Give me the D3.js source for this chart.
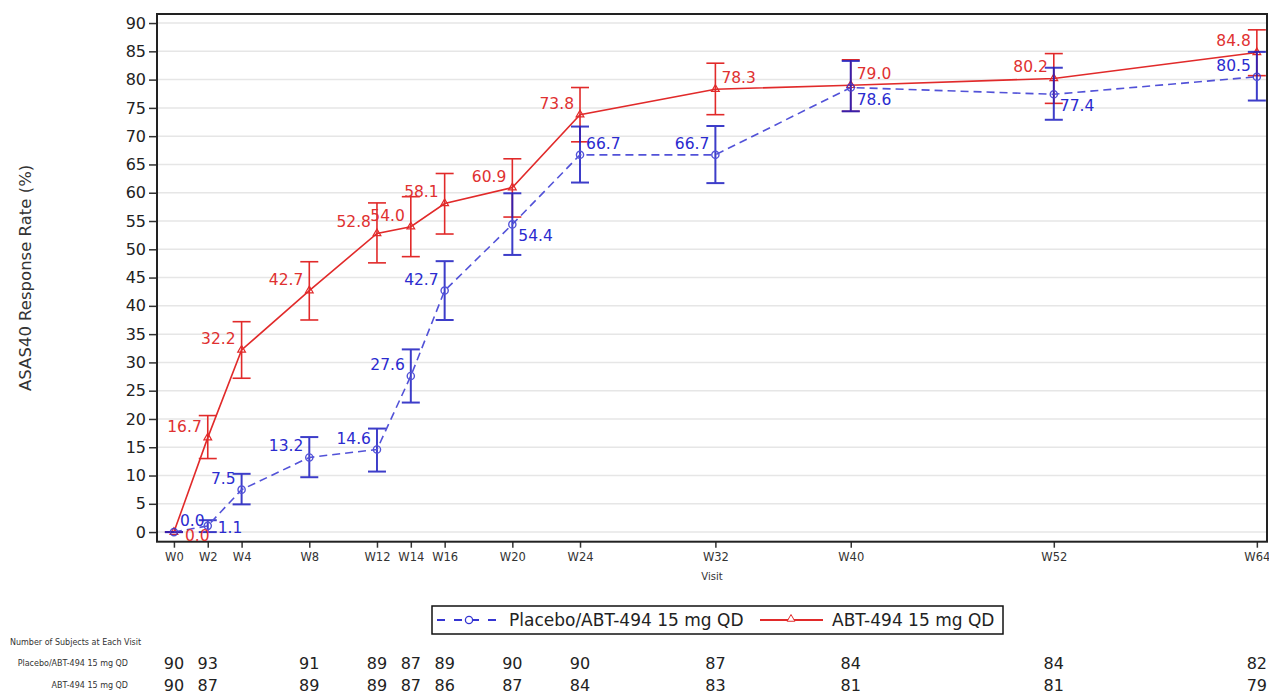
<!DOCTYPE html>
<html>
<head>
<meta charset="utf-8">
<script src="https://cdn.jsdelivr.net/npm/d3@7"></script>
<style>
  body { margin: 0; background: #fff; }
  text { font-family: "DejaVu Sans", Verdana, sans-serif; }
</style>
</head>
<body>
<div id="chart"></div>
<script>
// visit labels and study weeks
const visits = ["W0", "W2", "W4", "W8", "W12", "W14", "W16", "W20", "W24", "W32", "W40", "W52", "W64"];
const weeks = [0, 2, 4, 8, 12, 14, 16, 20, 24, 32, 40, 52, 64];

// Placebo/ABT-494 15 mg QD
const placeboRate = [0.0, 1.1, 7.5, 13.2, 14.6, 27.6, 42.7, 54.4, 66.7, 66.7, 78.6, 77.4, 80.5];
const placeboLower = [0.0, 0.0, 4.9, 9.7, 10.7, 22.9, 37.5, 49.0, 61.8, 61.7, 74.4, 72.9, 76.3];
const placeboUpper = [0.0, 2.1, 10.3, 16.8, 18.3, 32.3, 47.9, 59.9, 71.7, 71.8, 83.3, 82.1, 84.9];

// ABT-494 15 mg QD
const abtRate = [0.0, 16.7, 32.2, 42.7, 52.8, 54.0, 58.1, 60.9, 73.8, 78.3, 79.0, 80.2, 84.8];
const abtLower = [0.0, 13.0, 27.2, 37.5, 47.6, 48.7, 52.7, 55.7, 69.0, 73.8, 74.4, 75.8, 80.7];
const abtUpper = [0.0, 20.6, 37.2, 47.8, 58.2, 59.3, 63.4, 66.0, 78.6, 82.9, 83.5, 84.6, 88.8];

// number of subjects (the table shows no count under W4)
const tableWeeks = [0, 2, 8, 12, 14, 16, 20, 24, 32, 40, 52, 64];
const placeboN = [90, 93, 91, 89, 87, 89, 90, 90, 87, 84, 84, 82];
const abtN = [90, 87, 89, 89, 87, 86, 87, 84, 83, 81, 81, 79];

const yTicks = d3.range(0, 95, 5);

// where each point label sits (ul = upper left, ur = upper right, lr = lower right, r = right)
const placeboLabelPos = ["ur", "r", "ul", "ul", "ul", "ul", "ul", "lr", "ur", "ul", "lr", "lr", "ul"];
const abtLabelPos = ["r0", "ul", "ul", "ul", "ul", "ul", "ul", "ul", "ul", "ur", "ur", "ul", "ul"];

const W = 1269, H = 693;
const margin = { top: 14, left: 157 };
const plotW = 1110, plotH = 527.7;

const red = "#e12a2a";
const blue = "#3535d2";

const svg = d3.select("#chart").append("svg")
    .attr("width", W)
    .attr("height", H);

const x = d3.scaleLinear().domain([-1, 64.6]).range([0, plotW]);
const y = d3.scaleLinear().domain([-1.7, 91.6]).range([plotH, 0]);

const g = svg.append("g").attr("transform", `translate(${margin.left},${margin.top})`);

// gridlines
g.selectAll(".grid")
    .data(yTicks)
    .enter().append("line")
    .attr("x1", 0).attr("x2", plotW)
    .attr("y1", d => y(d)).attr("y2", d => y(d))
    .attr("stroke", "#e6e6e6")
    .attr("stroke-width", 1.5);

// axes
const yAxis = g.append("g").call(d3.axisLeft(y).tickValues(yTicks).tickSize(8).tickPadding(3));
yAxis.select(".domain").remove();
yAxis.selectAll("line").attr("stroke", "#333").attr("stroke-width", 1.5);
yAxis.selectAll("text").attr("font-size", 16).attr("fill", "#222")
    .attr("font-family", "DejaVu Sans");

const xAxis = g.append("g").attr("transform", `translate(0,${plotH})`)
    .call(d3.axisBottom(x).tickValues(weeks).tickFormat((d, i) => visits[i]).tickSize(6).tickPadding(5));
xAxis.select(".domain").remove();
xAxis.selectAll("line").attr("stroke", "#333").attr("stroke-width", 1.5);
xAxis.selectAll("text").attr("font-size", 11.5).attr("fill", "#333")
    .attr("font-family", "DejaVu Sans");

// frame
g.append("rect")
    .attr("width", plotW).attr("height", plotH)
    .attr("fill", "none").attr("stroke", "#222").attr("stroke-width", 2);

// axis titles
svg.append("text")
    .attr("transform", `translate(25,${margin.top + plotH / 2}) rotate(-90)`)
    .attr("text-anchor", "middle")
    .attr("dominant-baseline", "central")
    .attr("font-size", 16.5)
    .attr("fill", "#333")
    .text("ASAS40 Response Rate (%)");

svg.append("text")
    .attr("x", margin.left + plotW / 2)
    .attr("y", 580)
    .attr("text-anchor", "middle")
    .attr("font-size", 10)
    .attr("fill", "#333")
    .text("Visit");

function drawSeries(rate, lower, upper, color, barColor, barWidth, dashed, marker, opacity) {
    const pts = weeks.map((w, i) => ({ w, v: rate[i], lo: lower[i], hi: upper[i] }));
    const s = g.append("g").attr("opacity", opacity);

    const bars = s.selectAll(".bar").data(pts).enter().append("g")
        .attr("stroke", barColor).attr("stroke-width", barWidth);
    bars.append("line")
        .attr("x1", d => x(d.w)).attr("x2", d => x(d.w))
        .attr("y1", d => y(d.lo)).attr("y2", d => y(d.hi));
    bars.append("line")
        .attr("x1", d => x(d.w) - 9).attr("x2", d => x(d.w) + 9)
        .attr("y1", d => y(d.lo)).attr("y2", d => y(d.lo));
    bars.append("line")
        .attr("x1", d => x(d.w) - 9).attr("x2", d => x(d.w) + 9)
        .attr("y1", d => y(d.hi)).attr("y2", d => y(d.hi));

    s.append("path")
        .datum(pts)
        .attr("fill", "none")
        .attr("stroke", color)
        .attr("stroke-width", 1.6)
        .attr("stroke-dasharray", dashed ? "8,5" : null)
        .attr("d", d3.line().x(d => x(d.w)).y(d => y(d.v)));

    if (marker === "circle") {
        s.selectAll(".mk").data(pts).enter().append("circle")
            .attr("cx", d => x(d.w)).attr("cy", d => y(d.v)).attr("r", 3.6)
            .attr("fill", "none").attr("stroke", color).attr("stroke-width", 1.4);
    } else {
        s.selectAll(".mk").data(pts).enter().append("path")
            .attr("transform", d => `translate(${x(d.w)},${y(d.v)})`)
            .attr("d", d3.symbol(d3.symbolTriangle).size(26))
            .attr("fill", "none").attr("stroke", color).attr("stroke-width", 1.2);
    }
}

function drawLabels(rate, pos, color) {
    const off = {
        ul: [-6, -11, "end"],
        ur: [6, -11, "start"],
        lr: [6, 12, "start"],
        r: [10, 2, "start"],
        r0: [11, 4, "start"]
    };
    g.append("g").selectAll("text")
        .data(rate)
        .enter().append("text")
        .attr("x", (d, i) => x(weeks[i]) + off[pos[i]][0])
        .attr("y", (d, i) => y(d) + off[pos[i]][1])
        .attr("text-anchor", (d, i) => off[pos[i]][2])
        .attr("dominant-baseline", "central")
        .attr("font-size", 15.5)
        .attr("fill", color)
        .text(d => d.toFixed(1));
}

drawSeries(abtRate, abtLower, abtUpper, red, red, 1.6, false, "triangle", 1);
drawSeries(placeboRate, placeboLower, placeboUpper, blue, "#1c1cc0", 2, true, "circle", 0.85);
drawLabels(placeboRate, placeboLabelPos, "#2b2bcf");
drawLabels(abtRate, abtLabelPos, "#df3131");

// legend
const lg = svg.append("g");
lg.append("rect")
    .attr("x", 432).attr("y", 606).attr("width", 571).attr("height", 28)
    .attr("fill", "#fff").attr("stroke", "#111").attr("stroke-width", 1.5);
lg.append("line")
    .attr("x1", 437).attr("x2", 500).attr("y1", 620).attr("y2", 620)
    .attr("stroke", blue).attr("stroke-width", 1.8).attr("stroke-dasharray", "8,9");
lg.append("circle").attr("cx", 469).attr("cy", 620).attr("r", 3.6)
    .attr("fill", "#fff").attr("stroke", blue).attr("stroke-width", 1.3);
lg.append("text").attr("x", 509).attr("y", 620).attr("dominant-baseline", "central")
    .attr("font-size", 17).attr("fill", "#222").text("Placebo/ABT-494 15 mg QD");
lg.append("line")
    .attr("x1", 760).attr("x2", 823).attr("y1", 620).attr("y2", 620)
    .attr("stroke", red).attr("stroke-width", 1.8);
lg.append("path").attr("transform", "translate(791,619)")
    .attr("d", d3.symbol(d3.symbolTriangle).size(26))
    .attr("fill", "#fff").attr("stroke", red).attr("stroke-width", 1);
lg.append("text").attr("x", 832).attr("y", 620).attr("dominant-baseline", "central")
    .attr("font-size", 17).attr("fill", "#222").text("ABT-494 15 mg QD");

// subjects table
svg.append("text")
    .attr("x", 10).attr("y", 642).attr("dominant-baseline", "central")
    .attr("font-family", "Liberation Sans").attr("font-size", 8).attr("fill", "#333")
    .text("Number of Subjects at Each Visit");

const rows = [
    { name: "Placebo/ABT-494 15 mg QD", n: placeboN, yPos: 663 },
    { name: "ABT-494 15 mg QD", n: abtN, yPos: 685 }
];
rows.forEach(r => {
    svg.append("text")
        .attr("x", 128).attr("y", r.yPos).attr("dominant-baseline", "central")
        .attr("text-anchor", "end")
        .attr("font-family", "Liberation Sans").attr("font-size", 8).attr("fill", "#333")
        .text(r.name);
    svg.append("g").selectAll("text")
        .data(r.n)
        .enter().append("text")
        .attr("x", (d, i) => margin.left + x(tableWeeks[i]))
        .attr("y", r.yPos)
        .attr("text-anchor", "middle")
        .attr("dominant-baseline", "central")
        .attr("font-size", 16)
        .attr("fill", "#222")
        .text(d => d);
});
</script>
</body>
</html>
